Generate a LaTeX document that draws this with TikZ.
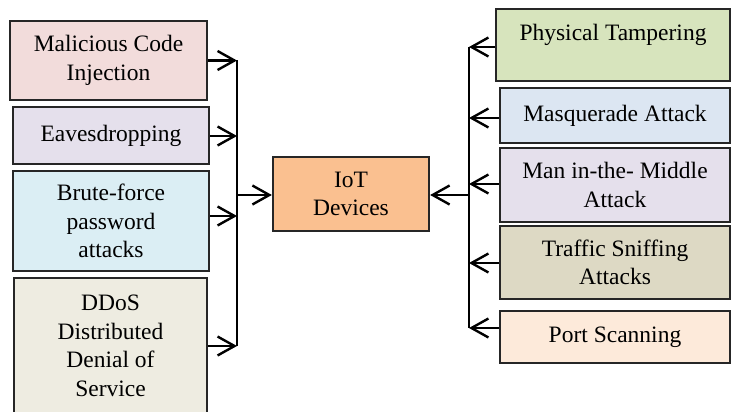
\documentclass[tikz,border=0pt]{standalone}
\usepackage{fontspec}
\setmainfont{Liberation Serif}
\usetikzlibrary{arrows.meta}
\definecolor{cPink}{HTML}{F2DCDB}
\definecolor{cLilac}{HTML}{E5E0EC}
\definecolor{cAqua}{HTML}{DBEEF4}
\definecolor{cStone}{HTML}{EEECE1}
\definecolor{cOrange}{HTML}{FAC090}
\definecolor{cOlive}{HTML}{D7E4BD}
\definecolor{cSky}{HTML}{DCE6F2}
\definecolor{cKhaki}{HTML}{DDD9C4}
\definecolor{cPeach}{HTML}{FDEADA}
\tikzset{
  x=1pt, y=-1pt,
  threat/.style={draw=black!85, line width=2.3pt, align=center, inner sep=0pt,
    font=\fontsize{23.5}{28.5}\selectfont},
  plain/.style={align=center, inner sep=0pt, font=\fontsize{23.5}{28.5}\selectfont},
  link/.style={line width=2.4pt, -{Straight Barb[length=17pt,width=19pt,line width=2.4pt]}},
  rail/.style={line width=2.4pt}
}
\begin{document}
\begin{tikzpicture}
\useasboundingbox (0,0) rectangle (732,412);
\clip (0,0) rectangle (732,412);

% attacks on the left
\node[threat, fill=cPink,  minimum width=197pt, minimum height=79pt]  (mal) at (108.5,60.5) {Malicious Code\\Injection};
\node[threat, fill=cLilac, minimum width=196pt, minimum height=57pt]  (eav) at (111,135.5) {Eavesdropping};
\node[threat, fill=cAqua,  minimum width=196pt, minimum height=100pt] (bru) at (111,221) {Brute-force\\password\\attacks};
\node[threat, fill=cStone, minimum width=193pt, minimum height=136pt] (dos) at (110.5,346) {DDoS\\Distributed\\Denial of\\Service};

% central device
\node[threat, fill=cOrange, minimum width=156pt, minimum height=74pt] (iot) at (351,194) {IoT\\Devices};

% attacks on the right
\node[threat, fill=cOlive, minimum width=234pt, minimum height=72pt] (phy) at (613,45) {};
\node[plain] (phyt) at (613,35) {Physical Tampering};
\node[threat, fill=cSky,   minimum width=230pt, minimum height=55pt] (mas) at (615,115.5) {Masquerade Attack};
\node[threat, fill=cLilac, minimum width=230pt, minimum height=74pt] (man) at (615,185) {Man in-the- Middle\\Attack};
\node[threat, fill=cKhaki, minimum width=230pt, minimum height=73pt] (tra) at (615,262.5) {Traffic Sniffing\\Attacks};
\node[threat, fill=cPeach, minimum width=230pt, minimum height=52pt] (por) at (615,337) {Port Scanning};

% junction points on the two collector rails
\coordinate (l1) at (237,60.5);
\coordinate (l2) at (237,136);
\coordinate (l3) at (237,216);
\coordinate (l4) at (237,346);
\coordinate (lm) at (237,195);
\coordinate (r1) at (469,47);
\coordinate (r2) at (469,118);
\coordinate (r3) at (469,184);
\coordinate (r4) at (469,263);
\coordinate (r5) at (469,328);
\coordinate (rm) at (469,195);

% rails
\draw[rail] (l1) -- (l4);
\draw[rail] (r1) -- (r5);

% left arrows into the rail
\draw[link] (mal.east |- l1) -- (l1);
\draw[link] (eav.east |- l2) -- (l2);
\draw[link] (bru.east |- l3) -- (l3);
\draw[link] (dos.east |- l4) -- (l4);
\draw[link] (lm) -- (iot.west |- lm);

% right arrows into the rail
\draw[link] (phy.west |- r1) -- (r1);
\draw[link] (mas.west |- r2) -- (r2);
\draw[link] (man.west |- r3) -- (r3);
\draw[link] (tra.west |- r4) -- (r4);
\draw[link] (por.west |- r5) -- (r5);
\draw[link] (rm) -- (iot.east |- rm);
\end{tikzpicture}
\end{document}
